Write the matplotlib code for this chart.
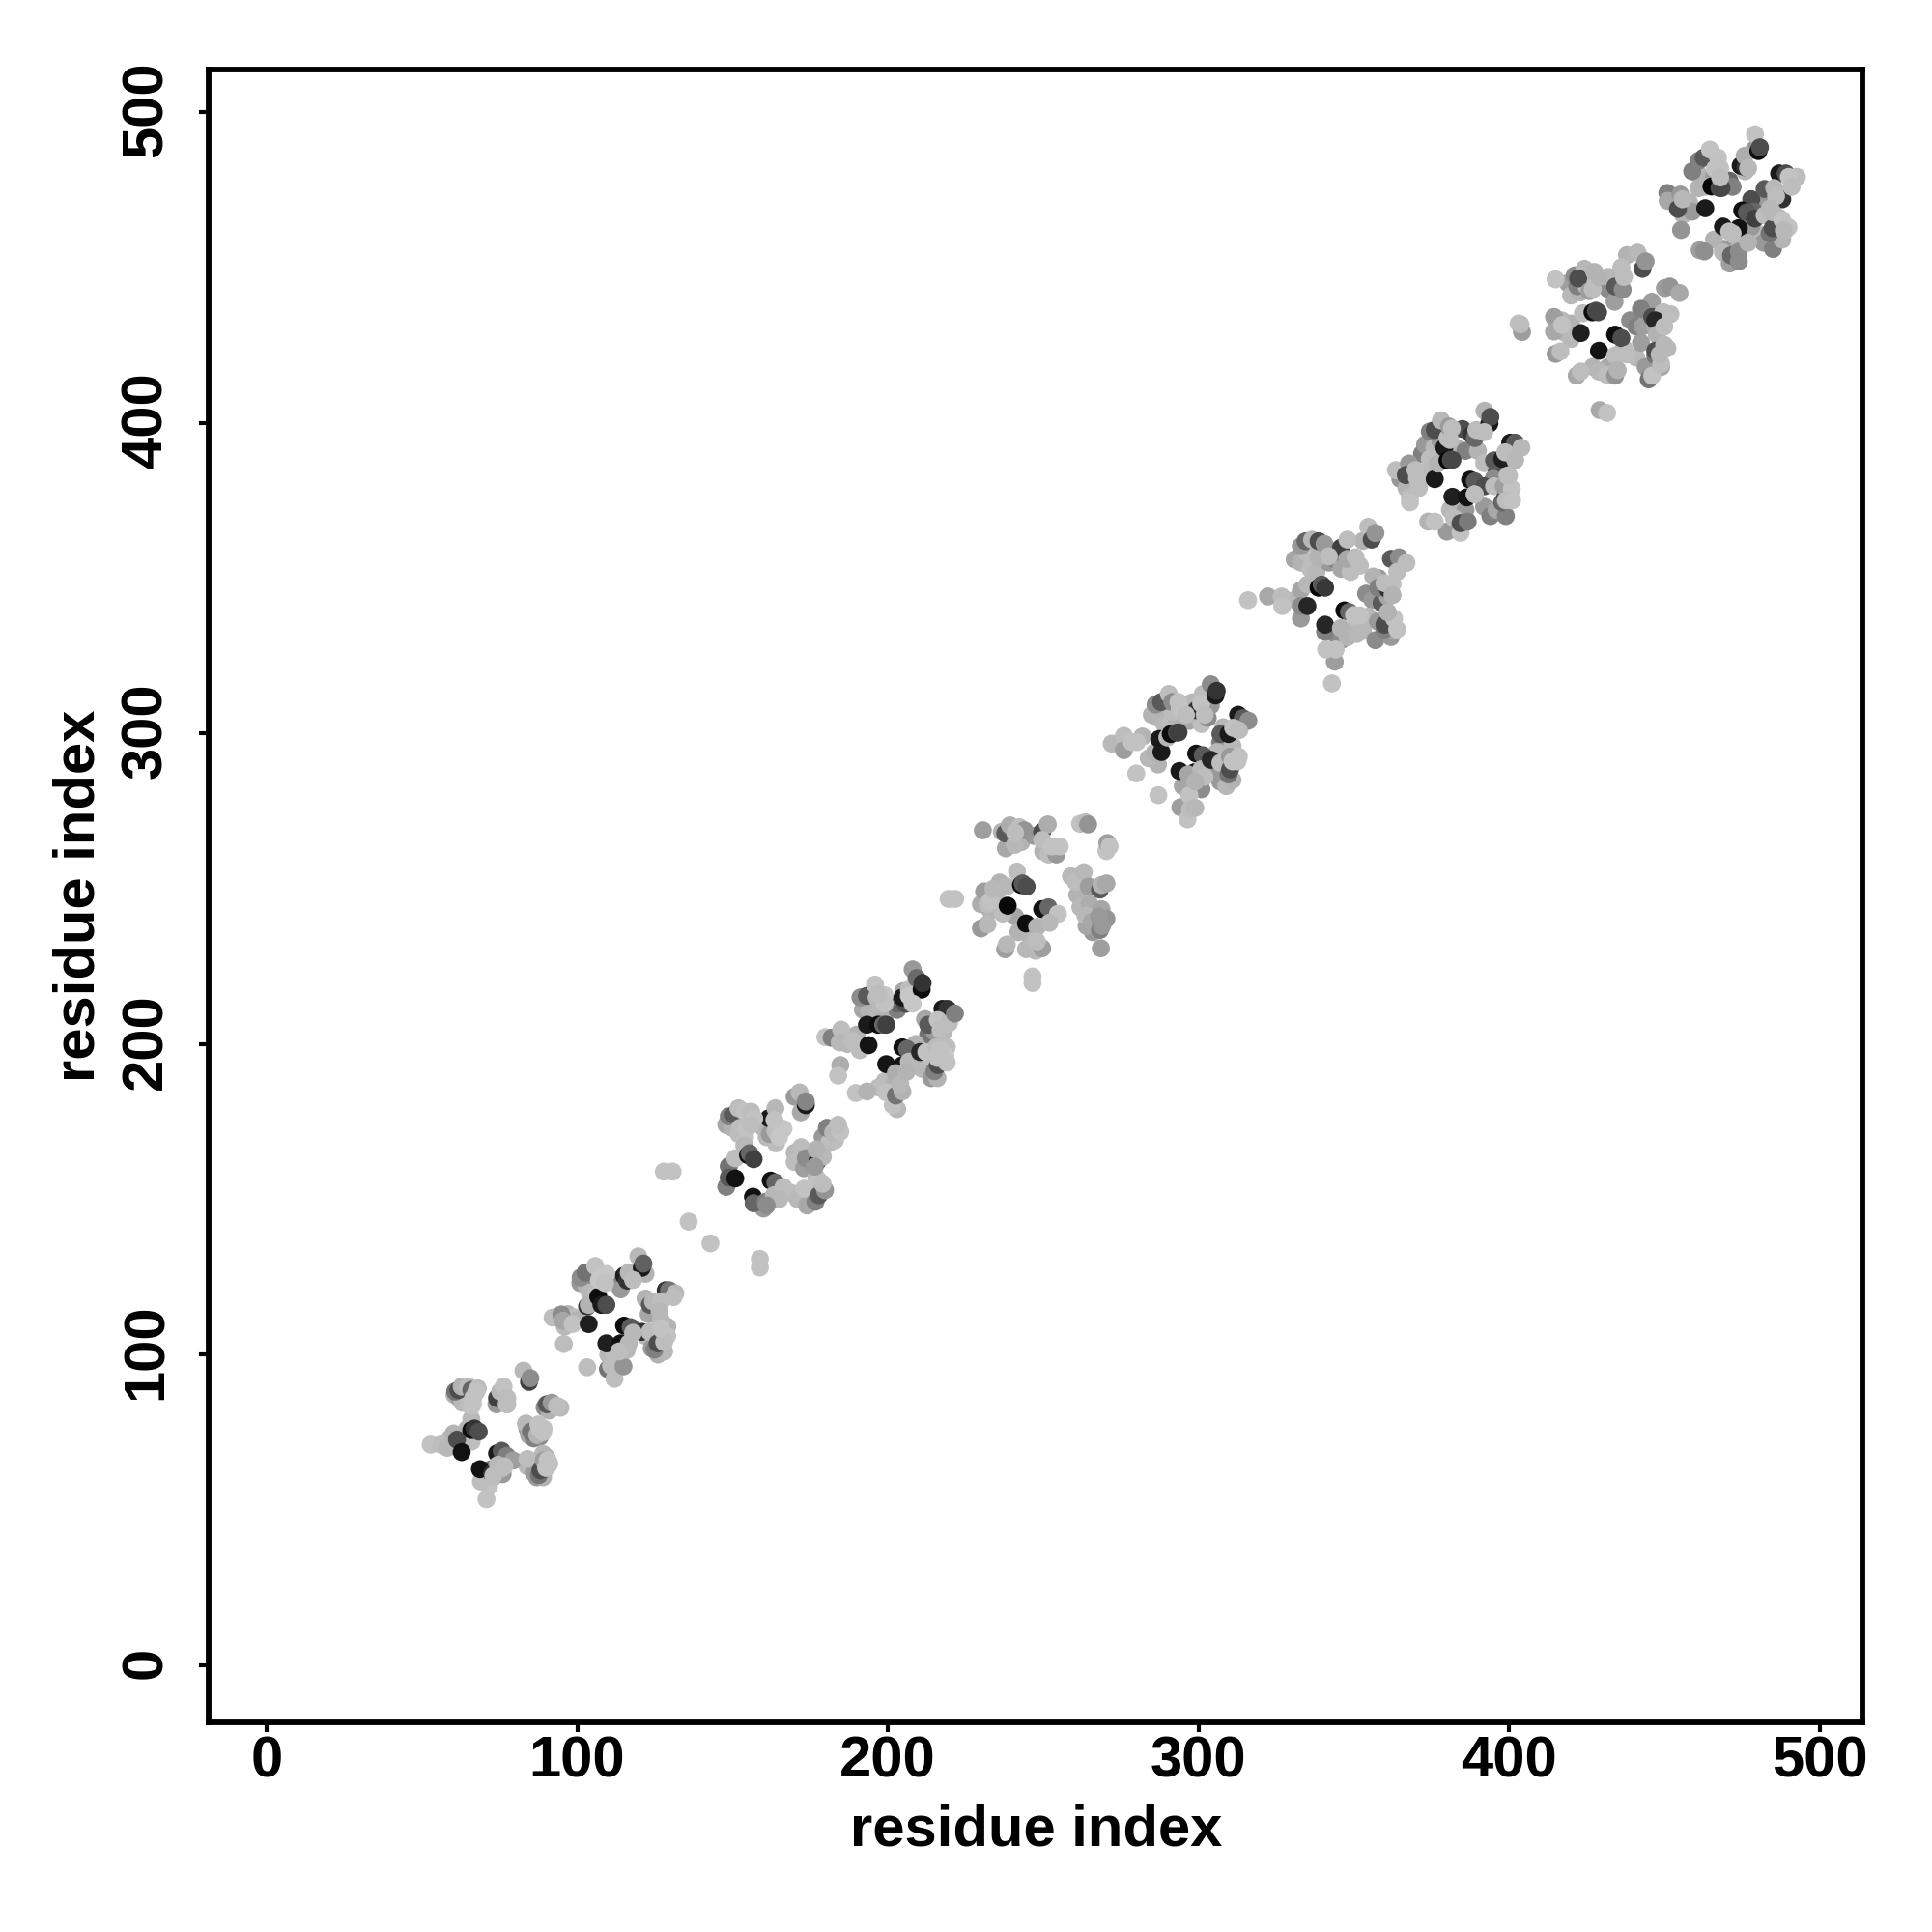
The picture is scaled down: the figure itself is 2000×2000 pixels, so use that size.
import matplotlib
matplotlib.use('Agg')
import matplotlib.pyplot as plt
from matplotlib.transforms import ScaledTranslation

# residue contact pairs, one group per repeat
# g is the grey level of the dot (0 black, 1 white)
# u* dots sit under the group, o* dots sit on top of it
c1_x = [52.8, 56.1, 58.2, 60.2, 61.3, 62.8, 65.9, 66.4, 65.9, 66.9, 68.3, 60.7, 61.8, 62.8, 64.9, 65.9, 68.0, 74.2, 75.2, 77.3, 76.3, 82.7, 84.5, 84.9, 90.2, 91.8, 94.6, 83.5, 85.1, 87.1, 89.2, 70.8, 71.6, 69.0, 68.7, 74.2, 75.7, 77.3, 72.6, 75.7, 79.4, 84.0, 87.7, 88.2, 89.2, 90.8]
c1_y = [71.0, 71.0, 70.0, 74.6, 72.6, 68.6, 79.3, 84.0, 75.7, 76.2, 75.2, 88.1, 88.6, 89.7, 89.7, 88.6, 89.1, 86.0, 88.1, 84.0, 89.7, 94.8, 91.2, 92.4, 84.0, 84.5, 82.9, 77.8, 75.2, 74.1, 76.2, 53.4, 57.6, 59.1, 63.1, 68.2, 69.0, 67.4, 61.7, 63.3, 65.9, 66.4, 61.2, 62.7, 65.9, 64.5]
c1_g = [.76, .74, .72, .70, .30, .07, .72, .76, .05, .20, .30, .45, .30, .70, .74, .40, .74, .25, .72, .74, .76, .72, .25, .55, .35, .60, .72, .72, .45, .70, .76, .76, .76, .74, .07, .10, .35, .50, .20, .72, .62, .74, .45, .30, .62, .76]
u1_x = [60.5, 62, 64, 66, 63, 65, 74, 75, 89.5, 91, 84, 84.5, 86, 88, 84, 86, 87, 89, 89, 90, 71, 73, 72, 76, 66, 64.5, 60, 59]
u1_y = [87, 86, 86.5, 87, 84.5, 84, 84, 85.5, 83, 82, 76, 74, 73, 73.5, 64, 62, 60.5, 60.5, 68, 67, 60, 60.5, 63, 61.5, 72, 76, 71, 73]
u1_g = [.70, .60, .65, .72, .72, .74, .60, .55, .55, .70, .60, .65, .50, .55, .72, .60, .60, .70, .72, .70, .72, .72, .50, .60, .74, .70, .70, .72]
o1_x = [66.5, 67.5, 66, 77.5, 77.5, 93.5, 88, 89, 87.5, 90.5, 90, 91, 74.5, 76.5, 73]
o1_y = [86, 88, 83.5, 86, 84, 83.5, 76, 75, 77.5, 66, 63.5, 65, 64.5, 64, 61]
o1_g = [.76, .76, .76, .74, .74, .74, .76, .76, .76, .76, .76, .76, .72, .74, .74]

c2_x = [92.1, 94.9, 95.4, 98.5, 95.7, 103.7, 103.2, 101.1, 102.7, 105.8, 109.4, 107.3, 103.7, 106.8, 107.8, 109.4, 115.1, 116.1, 116.6, 119.7, 120.8, 121.3, 128.5, 129.6, 131.6, 123.4, 126.0, 124.4, 115.1, 117.2, 109.4, 114.0, 116.6, 120.8, 123.4, 124.9, 125.9, 127.5, 128.5, 103.2, 109.9, 112.0, 110.9, 114.9]
c2_y = [111.9, 112.9, 110.9, 109.8, 103.4, 109.8, 115.5, 124.8, 126.4, 128.5, 125.9, 122.8, 116.0, 118.6, 116.0, 116.0, 125.4, 123.8, 126.4, 131.6, 127.9, 129.3, 120.7, 120.7, 119.7, 116.0, 115.5, 117.1, 109.3, 108.8, 103.6, 103.6, 103.6, 107.3, 107.3, 101.6, 103.6, 107.8, 106.7, 95.9, 95.3, 92.2, 96.4, 96.2]
c2_g = [.74, .55, .65, .76, .74, .12, .20, .55, .45, .76, .78, .74, .70, .05, .10, .30, .12, .20, .72, .72, .10, .38, .20, .45, .72, .35, .12, .72, .05, .35, .12, .07, .72, .20, .74, .50, .30, .76, .68, .74, .45, .74, .74, .58]
u2_x = [97, 96, 99, 100, 101, 103, 105, 107, 104, 106, 113, 114, 122, 125, 123, 122, 122, 124, 126, 128, 129, 127, 110, 112, 115]
u2_y = [113, 109, 112, 111, 123, 122, 124, 126, 120, 120, 124, 121, 126, 113, 113, 118, 106, 102, 100, 101, 109, 111, 100, 99, 102]
u2_g = [.70, .72, .74, .70, .60, .70, .55, .60, .72, .74, .50, .60, .70, .60, .65, .70, .72, .60, .70, .72, .70, .72, .72, .74, .60]
o2_x = [107, 109, 118, 131, 127, 126.5, 129, 128, 127, 118, 116, 113.5]
o2_y = [124, 123, 124, 118.5, 117, 114, 106, 104, 108.5, 107, 101.5, 101]
o2_g = [.78, .76, .74, .74, .74, .72, .76, .74, .76, .72, .72, .74]

c3_x = [135.9, 142.9, 158.8, 158.8, 127.9, 130.7, 148.8, 150.4, 151.9, 154.0, 156.0, 152.4, 154.5, 161.7, 163.8, 163.8, 166.4, 171.6, 173.6, 173.6, 180.4, 182.4, 184.7, 172.1, 173.6, 177.3, 179.1, 153.8, 148.8, 150.9, 155.0, 155.5, 156.8, 148.8, 150.9, 156.6, 156.8, 162.3, 163.8, 160.7, 163.3, 166.4, 173.1, 177.8, 176.7, 177.8, 179.8]
c3_y = [142.8, 135.8, 130.8, 128.0, 158.9, 158.9, 176.7, 177.2, 179.3, 178.2, 178.2, 173.0, 172.5, 176.1, 179.3, 172.0, 172.7, 184.4, 180.3, 181.5, 173.0, 171.5, 171.7, 166.8, 163.2, 162.2, 163.7, 167.3, 160.6, 163.2, 164.2, 164.8, 162.9, 157.0, 156.7, 150.8, 148.7, 156.0, 155.4, 149.2, 151.3, 153.9, 153.4, 156.0, 149.2, 151.3, 152.9]
c3_g = [.76, .76, .76, .76, .76, .76, .50, .35, .74, .76, .74, .74, .76, .10, .72, .74, .78, .72, .10, .52, .50, .72, .76, .74, .55, .10, .72, .72, .45, .74, .05, .40, .25, .35, .07, .07, .40, .07, .40, .50, .72, .74, .76, .76, .50, .35, .58]
u3_x = [148, 150, 152, 154, 156, 160, 161, 164, 162, 170, 172, 179, 181, 183, 170, 170, 173, 169, 171, 174, 177, 160, 148]
u3_y = [174, 173, 171, 170, 175, 173, 170, 168, 171, 183, 178, 170, 168, 169, 165, 162, 160, 152, 150, 148, 157, 147, 154]
u3_g = [.65, .70, .74, .76, .72, .70, .72, .74, .60, .60, .66, .60, .74, .74, .72, .74, .62, .74, .72, .66, .72, .60, .50]
o3_x = [157, 156, 163.5, 165, 184, 177, 176.5, 179, 165, 161]
o3_y = [176, 174, 175.5, 170, 174, 166, 160.5, 155, 150, 148]
o3_g = [.76, .74, .76, .78, .74, .70, .60, .74, .72, .55]

c4_x = [179.9, 181.9, 185.0, 184.5, 188.6, 184.7, 184.0, 189.7, 193.3, 189.7, 193.8, 197.4, 193.3, 196.9, 198.5, 199.5, 191.2, 193.3, 195.9, 196.4, 199.0, 205.7, 204.7, 206.8, 206.8, 209.3, 210.9, 211.2, 213.0, 217.6, 219.2, 216.1, 219.7, 221.6, 204.7, 206.2, 199.5, 204.7, 206.8, 210.4, 202.6, 199.5, 201.6, 202.6, 204.7, 212.4, 215.0, 216.1, 215.6, 218.5]
c4_y = [202.2, 202.0, 204.6, 200.5, 201.0, 193.2, 189.8, 184.2, 184.7, 200.0, 199.6, 212.9, 206.2, 206.2, 206.2, 206.2, 215.0, 215.5, 219.1, 215.0, 215.7, 212.9, 215.0, 217.5, 215.5, 221.2, 217.5, 219.6, 206.2, 211.3, 211.3, 207.7, 206.7, 209.8, 198.9, 198.4, 193.5, 193.2, 194.3, 197.4, 190.6, 184.4, 180.3, 183.4, 184.7, 197.4, 191.2, 193.2, 198.9, 196.3]
c4_g = [.76, .50, .74, .72, .74, .68, .76, .76, .70, .74, .08, .72, .10, .05, .40, .25, .55, .35, .76, .72, .78, .30, .10, .74, .78, .42, .05, .20, .35, .10, .20, .76, .74, .50, .07, .40, .08, .07, .72, .15, .68, .76, .76, .45, .70, .76, .50, .30, .74, .78]
u4_x = [187, 190, 191, 192, 194, 197, 199, 203, 203, 205, 208, 213, 215, 218, 212, 209, 211, 213, 214, 216, 219, 203, 197, 199, 202]
u4_y = [200, 203, 198, 211, 211, 210, 209, 211, 213, 217, 224, 203, 204, 204, 208, 200, 192, 196, 189, 189, 199, 179, 186, 188, 187]
u4_g = [.72, .70, .74, .65, .70, .72, .70, .50, .40, .65, .60, .45, .60, .72, .65, .70, .72, .74, .60, .70, .74, .72, .74, .74, .70]
o4_x = [199, 197, 208, 217, 217, 216, 219, 204, 206]
o4_y = [213, 216, 213, 204.5, 198, 195.5, 194, 187, 191]
o4_g = [.76, .74, .78, .74, .76, .76, .76, .72, .70]

c5_x = [219.6, 221.7, 230.6, 236.7, 237.8, 239.3, 240.9, 242.4, 244.0, 249.7, 251.5, 249.7, 251.7, 254.3, 252.8, 255.4, 261.9, 263.6, 264.5, 270.4, 270.7, 271.4, 260.5, 263.1, 264.7, 268.3, 268.8, 270.4, 263.6, 265.7, 268.3, 268.8, 270.4, 268.6, 230.0, 231.0, 232.1, 230.0, 232.1, 237.8, 238.3, 241.6, 238.3, 238.6, 242.9, 243.4, 244.7, 244.5, 249.7, 251.7, 248.1, 254.8, 244.5, 247.6, 249.7, 246.6, 246.6]
c5_y = [246.7, 246.7, 268.8, 268.3, 267.8, 270.4, 264.1, 269.8, 268.8, 268.3, 270.7, 265.7, 261.0, 261.0, 263.6, 263.6, 270.9, 271.4, 270.7, 262.1, 264.7, 263.6, 252.2, 255.3, 250.7, 249.7, 251.2, 251.7, 241.4, 239.3, 236.7, 243.4, 240.3, 230.8, 245.0, 249.1, 245.0, 237.2, 238.5, 230.5, 232.0, 255.5, 250.7, 244.5, 251.2, 251.7, 250.7, 238.8, 243.4, 244.0, 237.7, 241.9, 230.5, 230.0, 230.8, 221.7, 219.6]
c5_g = [.76, .76, .62, .70, .35, .68, .72, .74, .58, .30, .68, .74, .74, .60, .76, .76, .76, .74, .58, .76, .62, .76, .74, .72, .62, .35, .70, .66, .72, .66, .50, .65, .58, .62, .68, .62, .74, .60, .72, .62, .72, .74, .72, .03, .03, .35, .30, .05, .07, .40, .70, .76, .72, .72, .62, .76, .76]
u5_x = [233, 235, 236, 240, 243, 238, 247, 250, 259, 261, 262, 265, 266, 264, 246, 241, 242, 237]
u5_y = [243, 247, 252, 266, 265, 263, 267, 262, 254, 248, 244, 245, 236, 238, 234, 241, 236, 242]
u5_g = [.70, .72, .70, .72, .70, .66, .60, .70, .72, .70, .72, .68, .60, .65, .72, .65, .70, .74]
o5_x = [248, 252, 241, 268, 269, 233, 234]
o5_y = [233, 239, 268, 241, 238, 246, 250]
o5_g = [.74, .72, .74, .60, .60, .76, .72]

c6_x = [272.1, 276.0, 276.0, 278.6, 280.2, 280.0, 287.1, 294.2, 297.1, 296.5, 297.3, 299.0, 285.9, 288.1, 287.4, 290.0, 291.6, 291.1, 293.1, 293.6, 286.2, 288.0, 290.5, 291.6, 293.6, 299.3, 300.9, 301.4, 300.9, 304.0, 305.5, 305.9, 307.1, 309.7, 312.8, 314.3, 311.2, 313.3, 316.1, 299.3, 301.4, 293.9, 298.8, 296.7, 300.9, 304.0, 307.1, 309.7, 310.2, 310.2, 312.6]
c6_y = [296.7, 299.2, 294.6, 297.2, 297.2, 287.1, 280.1, 276.2, 280.1, 272.3, 275.5, 276.0, 293.8, 294.0, 298.2, 298.7, 307.0, 299.8, 300.3, 300.3, 309.3, 310.1, 312.7, 310.1, 310.1, 307.5, 307.5, 312.7, 309.6, 315.8, 312.2, 313.7, 299.8, 299.8, 306.0, 304.9, 301.8, 301.3, 304.1, 293.5, 293.0, 287.9, 287.5, 286.8, 288.4, 291.5, 290.5, 286.8, 288.4, 292.5, 291.0]
c6_g = [.72, .74, .62, .76, .76, .76, .76, .62, .76, .76, .74, .72, .70, .10, .10, .72, .74, .05, .30, .25, .55, .35, .74, .55, .76, .20, .10, .74, .76, .55, .10, .20, .35, .10, .10, .35, .76, .76, .55, .08, .35, .10, .08, .65, .72, .15, .74, .45, .30, .60, .76]
u6_x = [285, 287, 289, 291, 293, 297, 298, 301, 303, 304, 307, 309, 311, 308, 306, 306, 307, 309, 311, 295, 297, 301, 287, 284, 282]
u6_y = [306, 305, 303, 303, 305, 304, 310, 303, 305, 309, 297, 296, 296, 302, 294, 288, 284.5, 283, 285, 283, 284, 282, 290, 292, 299]
u6_g = [.70, .70, .72, .74, .70, .66, .72, .75, .55, .60, .50, .60, .72, .72, .72, .60, .60, .72, .70, .65, .65, .55, .70, .72, .70]
o6_x = [294, 296, 302, 313, 311, 313, 302, 299]
o6_y = [308, 306, 306, 301, 291, 292.5, 286, 284.5]
o6_g = [.76, .74, .74, .74, .76, .76, .74, .70]

c7_x = [316.0, 322.4, 326.8, 327.0, 343.0, 343.9, 341.1, 344.2, 333.0, 335.1, 333.0, 335.1, 338.7, 339.7, 340.8, 340.8, 340.8, 347.0, 348.5, 345.9, 350.1, 333.0, 334.5, 336.6, 338.7, 338.7, 340.6, 345.9, 348.0, 348.0, 350.6, 354.7, 355.8, 357.0, 362.0, 364.6, 367.0, 356.3, 357.9, 361.0, 359.9, 362.5, 354.7, 357.8, 359.9, 361.0, 359.9, 363.0]
c7_y = [342.9, 344.1, 344.1, 341.0, 316.1, 323.1, 327.0, 327.0, 346.1, 347.9, 341.0, 341.0, 346.9, 347.9, 346.9, 332.7, 335.0, 339.6, 339.1, 333.9, 338.1, 360.3, 361.9, 362.4, 356.7, 361.9, 361.0, 359.8, 362.4, 356.2, 356.7, 366.5, 362.4, 364.5, 356.2, 356.7, 354.9, 350.5, 346.9, 346.4, 348.4, 348.1, 337.6, 336.0, 333.4, 338.6, 335.0, 337.0]
c7_g = [.76, .66, .74, .76, .76, .62, .76, .76, .65, .72, .55, .15, .03, .35, .22, .50, .15, .05, .40, .70, .76, .60, .40, .72, .70, .30, .60, .25, .74, .66, .74, .74, .30, .58, .35, .55, .74, .70, .50, .20, .74, .74, .72, .60, .50, .58, .30, .76]
u7_x = [331, 333, 335, 336, 338, 342, 344, 346, 349, 353, 358, 354, 356, 359, 361, 351, 353, 357, 362, 363, 346, 344, 348, 331, 333]
u7_y = [356, 355, 358, 353, 352, 355, 356, 353, 352, 362, 350, 345, 343, 342, 344, 335, 333, 330, 331, 333, 330, 332, 331, 343, 337]
u7_g = [.65, .70, .74, .74, .72, .60, .50, .65, .74, .70, .60, .55, .60, .35, .65, .74, .72, .55, .60, .66, .60, .55, .70, .72, .60]
o7_x = [342, 352, 364, 362.5, 352, 361, 364, 351]
o7_y = [357, 354, 352, 344.5, 338, 339, 333.5, 332]
o7_g = [.74, .74, .74, .70, .76, .70, .76, .72]

c8_x = [363.6, 367.8, 366.8, 369.9, 370.4, 374.5, 376.1, 368.1, 368.1, 374.0, 376.1, 377.1, 379.2, 380.2, 381.3, 381.8, 374.5, 376.1, 378.1, 380.2, 380.7, 381.6, 388.0, 389.0, 389.5, 392.1, 393.7, 394.0, 395.2, 397.8, 400.4, 402.0, 398.8, 404.0, 387.5, 389.0, 381.8, 386.4, 389.0, 392.1, 382.3, 384.4, 384.4, 386.7, 395.2, 397.8, 398.8, 398.3, 400.9]
c8_y = [384.8, 386.9, 383.2, 384.8, 382.2, 388.4, 381.9, 376.0, 374.4, 368.2, 368.2, 386.9, 392.0, 387.9, 388.1, 388.1, 397.2, 397.7, 400.8, 395.1, 398.8, 398.2, 396.2, 395.1, 397.7, 403.9, 399.8, 401.9, 387.9, 388.4, 393.6, 393.6, 390.5, 392.0, 381.7, 381.2, 376.2, 376.0, 377.0, 379.6, 369.3, 364.6, 367.7, 368.2, 379.6, 374.4, 376.0, 379.6, 378.8]
c8_g = [.74, .60, .30, .74, .74, .74, .10, .74, .76, .70, .76, .70, .10, .03, .30, .28, .50, .30, .72, .74, .60, .74, .20, .40, .74, .70, .10, .30, .35, .12, .10, .35, .74, .72, .06, .35, .12, .08, .72, .30, .74, .76, .30, .48, .74, .40, .30, .62, .76]
u8_x = [365, 367, 371, 372, 374, 372, 373, 376, 378, 383, 386, 385, 390, 392, 396, 395, 400, 392, 394, 396, 399, 381, 383, 380, 386, 400]
u8_y = [382, 379, 379, 384, 383, 390, 393, 392, 394, 392, 391, 398, 391, 387, 384, 382, 387, 373, 370, 372, 370, 372, 370, 365, 372, 383]
u8_g = [.60, .70, .74, .72, .72, .50, .60, .72, .60, .70, .50, .30, .70, .74, .30, .55, .60, .60, .50, .66, .50, .72, .72, .60, .60, .74]
o8_x = [381, 392, 402, 399.5, 399, 401, 389]
o8_y = [394.5, 397, 388, 383, 375, 375, 377]
o8_g = [.74, .74, .72, .74, .74, .76, .74]

c9_x = [415.0, 403.1, 404.2, 403.7, 429.2, 431.6, 446.1, 414.5, 414.5, 417.1, 415.0, 416.6, 421.8, 423.1, 423.8, 423.1, 426.9, 428.0, 428.7, 421.2, 424.3, 422.3, 427.5, 425.9, 434.2, 436.2, 434.2, 436.6, 441.4, 443.0, 444.0, 450.2, 451.8, 454.9, 442.5, 446.1, 449.7, 447.1, 434.2, 436.2, 429.0, 434.2, 429.0, 431.6, 434.2, 442.5, 447.6, 447.1, 447.1, 450.0]
c9_y = [446.2, 432.0, 429.2, 431.7, 404.1, 403.2, 415.2, 434.1, 429.4, 431.5, 422.2, 423.0, 415.2, 416.5, 435.3, 428.9, 435.6, 436.1, 435.6, 447.5, 449.6, 446.5, 448.6, 442.4, 447.0, 450.1, 443.9, 442.9, 454.8, 449.6, 452.0, 443.4, 443.9, 441.8, 436.7, 434.1, 435.6, 433.0, 428.4, 427.3, 423.2, 421.7, 416.5, 415.4, 415.2, 425.8, 428.4, 421.7, 423.2, 425.1]
c9_g = [.76, .76, .62, .74, .66, .76, .76, .62, .66, .76, .60, .74, .66, .74, .74, .12, .05, .30, .28, .55, .72, .30, .70, .62, .72, .74, .35, .55, .72, .30, .58, .62, .58, .66, .50, .30, .74, .15, .05, .30, .07, .74, .72, .74, .58, .62, .70, .45, .30, .72]
u9_x = [417, 418, 420, 420, 419, 420, 423, 422, 425, 432, 434, 432, 438, 446, 439, 441, 443, 447, 437, 435, 441, 444, 445, 449, 427, 432]
u9_y = [433, 429, 432, 427, 445, 441, 442, 444, 444, 443, 439, 447, 454, 439, 433, 431, 431, 431, 424, 422, 421, 418, 414, 418, 418, 418]
u9_g = [.72, .70, .70, .72, .62, .72, .70, .50, .74, .55, .62, .72, .70, .62, .55, .50, .62, .66, .74, .74, .72, .60, .45, .66, .70, .66]
o9_x = [427, 429, 437, 452, 450, 451, 449, 448.5, 435, 438]
o9_y = [443, 447, 447, 435, 431, 424, 419, 422, 417, 422]
o9_g = [.74, .70, .74, .74, .74, .72, .74, .72, .70, .74]

c10_x = [451.1, 455.2, 454.4, 455.9, 455.4, 461.4, 462.9, 461.1, 463.2, 465.2, 467.8, 468.4, 461.1, 462.7, 464.7, 467.3, 466.3, 474.6, 476.1, 475.9, 479.2, 480.3, 480.8, 482.3, 487.0, 489.1, 485.4, 492.7, 490.1, 475.1, 476.6, 468.9, 474.0, 470.9, 479.2, 468.9, 471.1, 471.5, 474.0, 482.3, 483.9, 484.9, 484.9, 488.0]
c10_y = [471.5, 473.5, 468.9, 472.0, 462.1, 455.6, 455.2, 475.6, 469.1, 476.1, 475.6, 475.6, 484.4, 485.4, 488.0, 485.4, 481.8, 482.8, 482.3, 486.0, 492.9, 487.5, 488.7, 475.3, 480.3, 480.3, 475.6, 479.2, 479.2, 468.4, 467.8, 463.2, 462.7, 461.6, 465.8, 454.9, 451.3, 453.9, 455.1, 466.8, 461.1, 462.7, 467.8, 465.3]
c10_g = [.66, .60, .30, .72, .58, .62, .56, .70, .10, .03, .30, .28, .50, .35, .76, .76, .76, .10, .20, .68, .76, .05, .30, .35, .10, .30, .72, .74, .76, .06, .35, .10, .07, .74, .25, .72, .62, .40, .55, .74, .45, .30, .72, .76]
u10_x = [451, 458, 456, 459, 461, 463, 459, 466, 463, 471, 472, 476, 479, 481, 478, 488, 484, 479, 474, 469, 466, 480, 482, 485, 488, 489, 487, 478]
u10_y = [474, 471, 467, 468, 480, 478, 481, 479, 476, 478, 476, 481, 488, 470, 472, 472, 470, 468, 458, 456, 459, 461, 458, 456, 459, 462, 466, 463]
u10_g = [.50, .70, .70, .60, .72, .70, .50, .60, .70, .40, .50, .72, .60, .60, .30, .20, .60, .40, .72, .60, .70, .74, .60, .50, .70, .74, .70, .60]
o10_x = [468, 468, 477, 491, 486, 484, 490, 488.5, 472, 477, 474]
o10_y = [482, 479, 482, 476, 473, 469, 463, 462, 461, 458, 452]
o10_g = [.76, .74, .72, .74, .74, .72, .76, .72, .74, .70, .55]

groups = [
    (u1_x + c1_x + o1_x, u1_y + c1_y + o1_y, u1_g + c1_g + o1_g),
    (u2_x + c2_x + o2_x, u2_y + c2_y + o2_y, u2_g + c2_g + o2_g),
    (u3_x + c3_x + o3_x, u3_y + c3_y + o3_y, u3_g + c3_g + o3_g),
    (u4_x + c4_x + o4_x, u4_y + c4_y + o4_y, u4_g + c4_g + o4_g),
    (u5_x + c5_x + o5_x, u5_y + c5_y + o5_y, u5_g + c5_g + o5_g),
    (u6_x + c6_x + o6_x, u6_y + c6_y + o6_y, u6_g + c6_g + o6_g),
    (u7_x + c7_x + o7_x, u7_y + c7_y + o7_y, u7_g + c7_g + o7_g),
    (u8_x + c8_x + o8_x, u8_y + c8_y + o8_y, u8_g + c8_g + o8_g),
    (u9_x + c9_x + o9_x, u9_y + c9_y + o9_y, u9_g + c9_g + o9_g),
    (u10_x + c10_x + o10_x, u10_y + c10_y + o10_y, u10_g + c10_g + o10_g),
]

ticks = [0, 100, 200, 300, 400, 500]

plt.rcParams['font.family'] = ['Liberation Sans']
plt.rcParams['font.weight'] = 'bold'

fig = plt.figure(figsize=(10, 10), dpi=200)
ax = fig.add_axes([0.108, 0.10835, 0.85615, 0.85565])

for xs, ys, gs in groups:
    # one scatter draws in list order, so later dots sit on top
    ax.scatter(xs, ys, s=45, c=[str(g) for g in gs], linewidths=0)

ax.set_xlim(-18.66, 513.9)
ax.set_ylim(-18.54, 513.75)
ax.set_xticks(ticks)
ax.set_yticks(ticks)
ax.set_xticklabels(ticks, fontsize=21.5, fontweight='bold')
ax.set_yticklabels(ticks, fontsize=21.5, fontweight='bold', rotation=90, va='center')
ax.tick_params(axis='x', width=1.5, length=3.6, pad=1.1)
ax.tick_params(axis='y', width=1.5, length=3.6, pad=9.6)
for side in ax.spines.values():
    side.set_linewidth(2.1)

# y tick labels sit a little high in the original
for lab in ax.get_yticklabels():
    lab.set_transform(lab.get_transform() + ScaledTranslation(0, 1.0 / 72, fig.dpi_scale_trans))

ax.set_xlabel('residue index', fontsize=21.5, fontweight='bold', va='center')
ax.set_ylabel('residue index', fontsize=21.5, fontweight='bold', va='center')
ax.xaxis.set_label_coords(0.5361, 1 - 0.9474, transform=fig.transFigure)
ax.yaxis.set_label_coords(0.0411, 1 - 0.4635, transform=fig.transFigure)

fig.savefig('out.png', dpi=200)
